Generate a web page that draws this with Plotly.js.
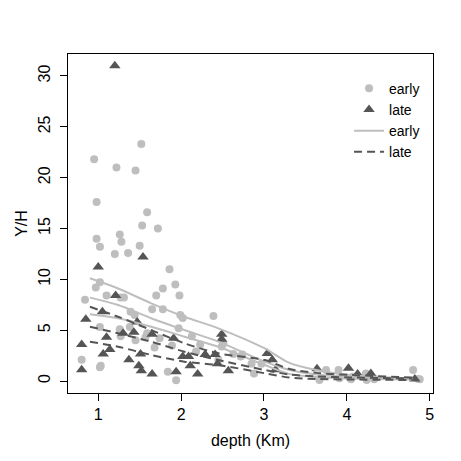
<!DOCTYPE html>
<html>
<head>
<meta charset="utf-8">
<script src="https://cdn.plot.ly/plotly-3.0.1.min.js"></script>
<style>
  html, body { margin: 0; padding: 0; background: #fff; }
  #chart { width: 461px; height: 461px; }
</style>
</head>
<body>
<div id="chart"></div>
<script>
// points: depth (Km) and Y/H
const earlyDepth = [1.52, 0.95, 1.22, 1.45, 0.98, 1.59, 1.53, 1.72, 0.98, 1.26, 1.02, 1.28, 1.50, 1.20, 1.36,
  1.86, 1.02, 0.97, 1.93, 1.78, 0.84, 1.10, 1.27, 1.31, 1.70, 1.98, 1.39, 1.44, 1.65, 1.78, 1.99, 2.02, 2.39,
  1.02, 1.26, 1.38, 1.97, 1.27, 1.45, 1.59, 1.74, 2.13, 1.57, 2.23, 2.49, 2.51, 1.68, 1.89, 2.18, 0.80, 1.03,
  1.02, 1.84, 1.94, 2.45, 2.74, 2.85, 2.88, 2.63, 2.72, 2.97, 3.75, 3.90, 3.67, 4.07, 4.23, 4.24, 4.33, 4.05,
  3.91, 4.80, 4.86, 4.88];
const earlyYH = [23.3, 21.8, 21.0, 20.7, 17.6, 16.6, 15.3, 15.0, 14.0, 14.4, 13.2, 13.7, 13.3, 12.5, 12.6,
  11.0, 9.7, 9.2, 9.5, 9.1, 8.0, 8.4, 8.2, 8.2, 8.4, 8.4, 6.8, 6.5, 7.05, 7.05, 6.5, 6.2, 6.4,
  5.3, 5.1, 5.3, 5.2, 4.4, 4.0, 4.7, 4.2, 4.4, 4.3, 3.6, 3.4, 3.7, 3.3, 3.5, 2.9, 2.1, 1.5,
  1.35, 0.9, 0.07, 2.1, 2.6, 1.7, 0.75, 2.65, 2.4, 1.7, 1.08, 1.08, 0.1, 0.42, 0.75, 0.1, 0.17, 0.17,
  0.27, 1.08, 0.2, 0.17];

const lateDepth = [1.20, 1.54, 1.00, 1.21, 1.05, 0.85, 1.47, 1.30, 1.43, 1.65, 1.10, 1.91, 2.49, 2.49, 0.80,
  1.14, 1.06, 1.51, 2.02, 2.09, 2.29, 2.41, 1.37, 1.49, 2.11, 2.44, 0.80, 1.52, 1.65, 1.94, 2.20, 2.57,
  3.04, 3.10, 3.14, 3.64, 4.02, 4.13, 4.29, 4.82];
const lateYH = [31.0, 12.2, 11.2, 8.4, 6.8, 6.07, 5.8, 4.7, 4.8, 4.6, 4.3, 4.2, 4.6, 4.1, 3.6,
  3.1, 2.65, 2.65, 2.4, 2.4, 2.6, 2.6, 2.1, 1.5, 1.5, 1.7, 1.1, 1.0, 0.7, 0.9, 0.7, 1.0,
  2.7, 2.1, 1.1, 1.2, 1.25, 0.7, 0.75, 0.2];

// fitted curves with upper / lower bands
const curveDepth = [0.90, 1.24, 1.64, 2.04, 2.45, 3.01, 3.30, 3.63, 4.03, 4.79];
const earlyUpper = [10.1, 9.1, 7.64, 6.32, 5.18, 3.2, 1.8, 1.08, 0.6, 0.27];
const earlyFit = [8.2, 7.47, 6.17, 5.01, 3.87, 1.9, 1.1, 0.65, 0.42, 0.25];
const earlyLower = [6.56, 6.17, 5.34, 4.36, 3.37, 1.57, 0.7, 0.4, 0.25, 0.15];
const lateUpper = [7.3, 6.32, 5.01, 3.71, 2.72, 2.06, 1.2, 0.8, 0.6, 0.35];
const lateFit = [5.34, 4.69, 3.86, 2.88, 2.06, 1.08, 0.65, 0.45, 0.35, 0.25];
const lateLower = [3.86, 3.37, 2.56, 1.9, 1.57, 0.76, 0.35, 0.2, 0.15, 0.1];

const earlyColor = '#bebebe';
const lateColor = '#555555';
const font = { family: 'Liberation Sans, Arial, sans-serif', size: 16, color: '#000' };
const legendFont = { family: 'Liberation Sans, Arial, sans-serif', size: 14, color: '#000' };

function curve(y, color, dash, showlegend, name) {
  return {
    type: 'scatter', mode: 'lines', x: curveDepth, y: y, name: name,
    showlegend: showlegend, hoverinfo: 'skip',
    line: { color: color, width: 2, dash: dash, shape: 'spline', smoothing: 0.8 }
  };
}

const data = [
  { type: 'scatter', mode: 'markers', x: earlyDepth, y: earlyYH, name: 'early',
    marker: { symbol: 'circle', size: 8, color: earlyColor } },
  { type: 'scatter', mode: 'markers', x: lateDepth, y: lateYH, name: 'late',
    marker: { symbol: 'triangle-up', size: 10, color: lateColor } },
  curve(earlyFit, earlyColor, 'solid', true, 'early'),
  curve(earlyUpper, earlyColor, 'solid', false, 'early'),
  curve(earlyLower, earlyColor, 'solid', false, 'early'),
  curve(lateFit, lateColor, '8px,5px', true, 'late'),
  curve(lateUpper, lateColor, '8px,5px', false, 'late'),
  curve(lateLower, lateColor, '8px,5px', false, 'late')
];

const axisBase = {
  showgrid: false, zeroline: false, showline: true, mirror: true,
  linecolor: '#000', linewidth: 1, ticks: 'outside', ticklen: 7,
  tickcolor: '#000', tickfont: font
};

const layout = {
  width: 461, height: 461,
  margin: { l: 68, r: 28, t: 54, b: 68 },
  paper_bgcolor: '#fff', plot_bgcolor: '#fff',
  font: font,
  showlegend: true,
  legend: {
    x: 0.77, y: 0.945, xanchor: 'left', yanchor: 'top',
    bgcolor: 'rgba(0,0,0,0)', font: legendFont, tracegroupgap: 0, itemwidth: 30
  },
  xaxis: Object.assign({}, axisBase, {
    range: [0.635, 5.04], tickvals: [1, 2, 3, 4, 5],
    title: { text: 'depth (Km)', font: font, standoff: 12 }
  }),
  yaxis: Object.assign({}, axisBase, {
    range: [-1.18, 32.16], tickvals: [0, 5, 10, 15, 20, 25, 30], tickangle: -90,
    ticklabelstandoff: 4,
    title: { text: 'Y/H', font: font, standoff: 3 }
  })
};

Plotly.newPlot('chart', data, layout, { displayModeBar: false, staticPlot: true });
</script>
</body>
</html>
